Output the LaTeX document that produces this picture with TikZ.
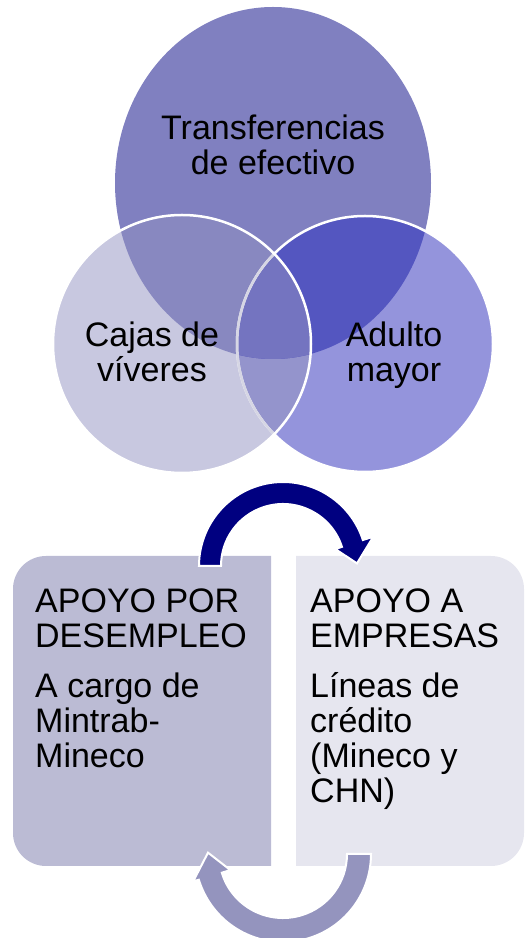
\documentclass[tikz,border=0pt]{standalone}
\usepackage{fontspec}
\setmainfont{Liberation Sans}
\definecolor{topc}{RGB}{128,128,192}
\definecolor{leftc}{RGB}{200,200,224}
\definecolor{rightc}{RGB}{148,148,220}
\definecolor{tlc}{RGB}{136,136,192}
\definecolor{trc}{RGB}{84,86,192}
\definecolor{allc}{RGB}{116,116,192}
\definecolor{lrc}{RGB}{148,148,204}
\definecolor{lrstroke}{RGB}{214,214,228}
\definecolor{boxl}{RGB}{187,187,212}
\definecolor{boxr}{RGB}{230,230,239}
\definecolor{arrowtop}{RGB}{0,0,128}
\definecolor{arrowbot}{RGB}{148,148,190}
\begin{document}
\begin{tikzpicture}[x=1pt,y=1pt,
  lbl/.style={inner sep=0pt, font=\fontsize{34}{35}\selectfont, text=black},
  ring/.style={draw=white, line width=2.5pt},
  cyclearrow/.style={draw=white, line width=2pt}]
\useasboundingbox (0,0) rectangle (525,938);
\coordinate (T) at (273,755);
\coordinate (L) at (182,594);
\coordinate (R) at (365,594);
% base shapes
\fill[topc] (T) ellipse [x radius=158, y radius=176];
\fill[rightc] (R) circle[radius=128];
\fill[leftc] (L) circle[radius=129];
% overlaps
\begin{scope}
  \clip (L) circle[radius=129];
  \fill[lrc] (R) circle[radius=128];
\end{scope}
\begin{scope}
  \clip (T) ellipse [x radius=158, y radius=176];
  \fill[tlc] (L) circle[radius=129];
  \fill[trc] (R) circle[radius=128];
  \clip (L) circle[radius=129];
  \fill[allc] (R) circle[radius=128];
\end{scope}
% outlines
\draw[ring] (R) circle[radius=128];
\begin{scope}
  \clip (L) circle[radius=129];
  \draw[ring, draw=lrstroke] (R) circle[radius=128];
\end{scope}
\draw[ring] (L) circle[radius=129];
% circle texts (anchor = baseline of last line)
\node[lbl, align=center, anchor=base] (ttop) at (273,763) {Transferencias\\de efectivo};
\node[lbl, align=center, anchor=base] (tleft) at (152,556) {Cajas de\\víveres};
\node[lbl, align=center, anchor=base] (tright) at (394,556) {Adulto\\mayor};
% boxes
\fill[boxl] (271,72) -- (271,382) -- (46,382) arc[start angle=90, end angle=180, radius=33]
  -- (13,105) arc[start angle=180, end angle=270, radius=33] -- cycle;
\fill[boxr] (296,382) -- (491,382) arc[start angle=90, end angle=0, radius=33]
  -- (524,105) arc[start angle=0, end angle=-90, radius=33] -- (296,72) -- cycle;
\node[lbl, align=left, anchor=base west] (bl) at (35,170)
  {APOYO POR\\DESEMPLEO\\[15pt]A cargo de\\Mintrab-\\Mineco};
\node[lbl, align=left, anchor=base west] (br) at (310,135)
  {APOYO A\\EMPRESAS\\[15pt]Líneas de\\crédito\\(Mineco y\\CHN)};
% cycle arrows
\begin{scope}[shift={(283,372)}]
  \filldraw[fill=arrowtop, cyclearrow] (180:84) arc[start angle=180, end angle=18, radius=84]
    -- (18:95) -- (2:74) -- (18:55) -- (18:62)
    arc[start angle=18, end angle=180, radius=62] -- cycle;
\end{scope}
\begin{scope}[shift={(283,84)}]
  \filldraw[fill=arrowbot, cyclearrow] (0:88) arc[start angle=0, end angle=-163, radius=88]
    -- (-163:94) -- (-181:75) -- (-163:55) -- (-163:64)
    arc[start angle=-163, end angle=0, radius=64] -- cycle;
\end{scope}
\end{tikzpicture}
\end{document}
